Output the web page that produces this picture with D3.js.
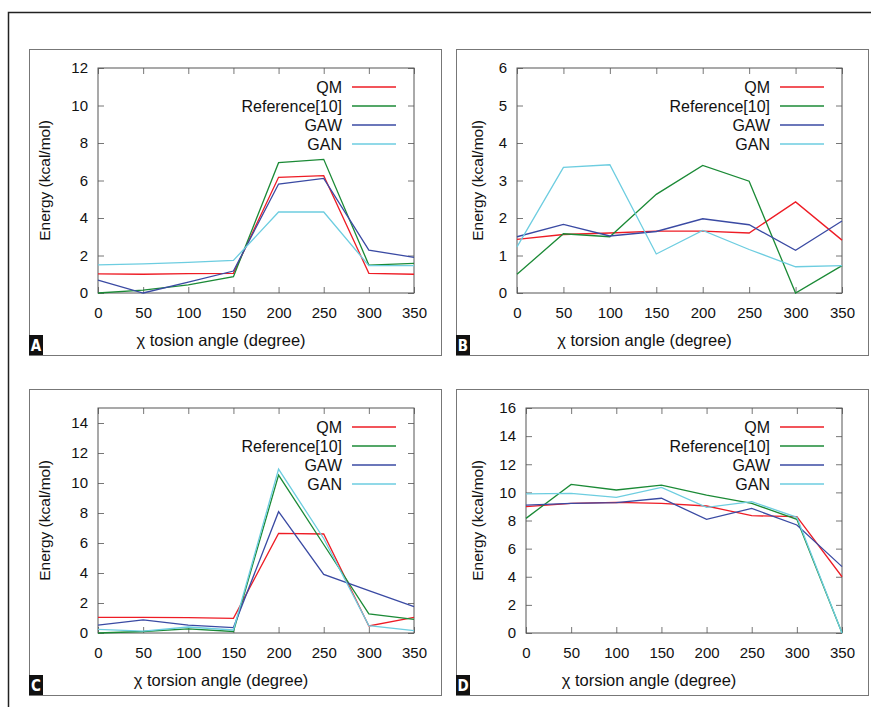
<!DOCTYPE html>
<html>
<head>
<meta charset="utf-8">
<script src="https://cdn.jsdelivr.net/npm/d3@7"></script>
<style>
  body { margin: 0; background: #fff; }
  svg { display: block; font-family: "Liberation Sans", Arial, sans-serif; }
  .tick text { font-size: 15px; fill: #111; }
  .legend text { font-size: 16px; fill: #111; }
  .title { font-size: 15.5px; fill: #111; }
  .xtitle { font-size: 16.5px; fill: #111; }
</style>
</head>
<body>
<svg width="871" height="707"></svg>
<script>
var angles = [0, 50, 100, 150, 200, 250, 300, 350];
var seriesNames = ["QM", "Reference[10]", "GAW", "GAN"];
var colors = ["#ee1c25", "#1b8a36", "#3a4aa3", "#6dcde0"];

// panel A
var qmA  = [1.02, 1.0, 1.03, 1.05, 6.17, 6.26, 1.05, 1.0];
var refA = [0.0, 0.15, 0.43, 0.87, 6.95, 7.13, 1.49, 1.58];
var gawA = [0.69, 0.0, 0.58, 1.17, 5.81, 6.11, 2.29, 1.9];
var ganA = [1.5, 1.55, 1.63, 1.74, 4.32, 4.32, 1.46, 1.46];
// panel B
var qmB  = [1.43, 1.56, 1.6, 1.65, 1.65, 1.6, 2.43, 1.41];
var refB = [0.5, 1.58, 1.5, 2.63, 3.4, 2.98, 0.0, 0.73];
var gawB = [1.5, 1.83, 1.52, 1.64, 1.98, 1.82, 1.14, 1.92];
var ganB = [1.23, 3.35, 3.42, 1.04, 1.67, 1.16, 0.7, 0.73];
// panel C
var qmC  = [1.04, 1.04, 1.02, 0.98, 6.64, 6.6, 0.47, 1.04];
var refC = [0.0, 0.1, 0.27, 0.1, 10.53, 5.9, 1.27, 0.91];
var gawC = [0.53, 0.87, 0.53, 0.36, 8.09, 3.91, 2.82, 1.76];
var ganC = [0.24, 0.13, 0.4, 0.2, 10.93, 6.3, 0.49, 0.16];
// panel D
var qmD  = [8.98, 9.22, 9.29, 9.22, 9.03, 8.34, 8.27, 4.0];
var refD = [8.15, 10.57, 10.17, 10.52, 9.81, 9.22, 8.08, 0.0];
var gawD = [9.1, 9.22, 9.27, 9.58, 8.08, 8.86, 7.68, 4.72];
var ganD = [9.89, 9.93, 9.65, 10.36, 8.93, 9.34, 8.23, 0.0];

var xTicks = [0, 50, 100, 150, 200, 250, 300, 350];
var yTicksA = [0, 2, 4, 6, 8, 10, 12];
var yTicksB = [0, 1, 2, 3, 4, 5, 6];
var yTicksC = [0, 2, 4, 6, 8, 10, 12, 14];
var yTicksD = [0, 2, 4, 6, 8, 10, 12, 14, 16];

var svg = d3.select("svg");

// outer frame
svg.append("rect")
  .attr("x", 8.5).attr("y", 12.5).attr("width", 880).attr("height", 720)
  .attr("fill", "none").attr("stroke", "#222").attr("stroke-width", 1.5);

var panels = [
  { label: "A", box: [29, 49, 441, 355], plot: [98, 68, 414, 293], ymax: 12, yTicks: yTicksA,
    series: [qmA, refA, gawA, ganA], xTitle: "\u03c7  tosion angle (degree)", yTitleOff: 16 },
  { label: "B", box: [456, 49, 868, 355], plot: [517, 68, 842, 293], ymax: 6, yTicks: yTicksB,
    series: [qmB, refB, gawB, ganB], xTitle: "\u03c7  torsion angle (degree)", yTitleOff: 22 },
  { label: "C", box: [29, 389, 441, 695], plot: [98, 408, 414, 633], ymax: 15, yTicks: yTicksC,
    series: [qmC, refC, gawC, ganC], xTitle: "\u03c7  torsion angle (degree)", yTitleOff: 16 },
  { label: "D", box: [456, 389, 868, 695], plot: [526, 408, 842, 633], ymax: 16, yTicks: yTicksD,
    series: [qmD, refD, gawD, ganD], xTitle: "\u03c7  torsion angle (degree)", yTitleOff: 22 }
];

panels.forEach(drawPanel);

function drawPanel(p) {
  var g = svg.append("g");
  var b = p.box;
  g.append("rect")
    .attr("x", b[0] + 0.5).attr("y", b[1] + 0.5)
    .attr("width", b[2] - b[0]).attr("height", b[3] - b[1])
    .attr("fill", "none").attr("stroke", "#777");

  var x = d3.scaleLinear().domain([0, 350]).range([p.plot[0], p.plot[2]]);
  var y = d3.scaleLinear().domain([0, p.ymax]).range([p.plot[3], p.plot[1]]);

  // ticks inward on all four sides (gnuplot mirror)
  var tk = 6;
  function grey(a) { a.select(".domain").remove(); a.selectAll("line").attr("stroke", "#777"); }
  g.append("g").attr("transform", "translate(0," + p.plot[3] + ")")
    .call(d3.axisBottom(x).tickValues(xTicks).tickSize(-tk).tickPadding(14).tickFormat(d3.format("d")))
    .call(grey);
  g.append("g").attr("transform", "translate(0," + p.plot[1] + ")")
    .call(d3.axisTop(x).tickValues(xTicks).tickSize(-tk).tickFormat(""))
    .call(grey);
  g.append("g").attr("transform", "translate(" + p.plot[0] + ",0)")
    .call(d3.axisLeft(y).tickValues(p.yTicks).tickSize(-tk).tickPadding(10).tickFormat(d3.format("d")))
    .call(grey);
  g.append("g").attr("transform", "translate(" + p.plot[2] + ",0)")
    .call(d3.axisRight(y).tickValues(p.yTicks).tickSize(-tk).tickFormat(""))
    .call(grey);
  g.selectAll(".tick text").attr("font-family", null).attr("font-size", null);

  g.append("rect")
    .attr("x", p.plot[0]).attr("y", p.plot[1])
    .attr("width", p.plot[2] - p.plot[0]).attr("height", p.plot[3] - p.plot[1])
    .attr("fill", "none").attr("stroke", "#555");

  // legend
  var lg = g.append("g").attr("class", "legend");
  seriesNames.forEach(function(name, i) {
    var ly = p.plot[1] + 19 + i * 19;
    lg.append("text").attr("x", p.plot[2] - 72).attr("y", ly)
      .attr("dy", "0.35em").attr("text-anchor", "end").text(name);
    lg.append("line")
      .attr("x1", p.plot[2] - 62).attr("x2", p.plot[2] - 18)
      .attr("y1", ly).attr("y2", ly)
      .attr("stroke", colors[i]).attr("stroke-width", 1.3);
  });

  var line = d3.line().x(function(d, i) { return x(angles[i]); }).y(function(d) { return y(d); });
  p.series.forEach(function(s, i) {
    g.append("path").datum(s)
      .attr("d", line).attr("fill", "none")
      .attr("stroke", colors[i]).attr("stroke-width", 1.3);
  });

  // axis titles
  g.append("text").attr("class", "xtitle")
    .attr("x", (p.plot[0] + p.plot[2]) / 2 - 35).attr("y", p.plot[3] + 53)
    .attr("text-anchor", "middle").text(p.xTitle);
  g.append("text").attr("class", "title")
    .attr("transform", "translate(" + (b[0] + p.yTitleOff) + "," + (p.plot[1] + p.plot[3]) / 2 + ") rotate(-90)")
    .attr("text-anchor", "middle").attr("dy", "0.35em").text("Energy (kcal/mol)");

  // panel letter
  g.append("rect").attr("x", b[0]).attr("y", b[3] - 20).attr("width", 14).attr("height", 20)
    .attr("fill", "#111");
  g.append("text").attr("x", b[0] + 7).attr("y", b[3] - 4)
    .attr("text-anchor", "middle").attr("fill", "#fff")
    .style("font-family", "'DejaVu Sans Condensed', 'DejaVu Sans', sans-serif")
    .style("font-weight", "bold").style("font-size", "15px").text(p.label);
}
</script>
</body>
</html>
